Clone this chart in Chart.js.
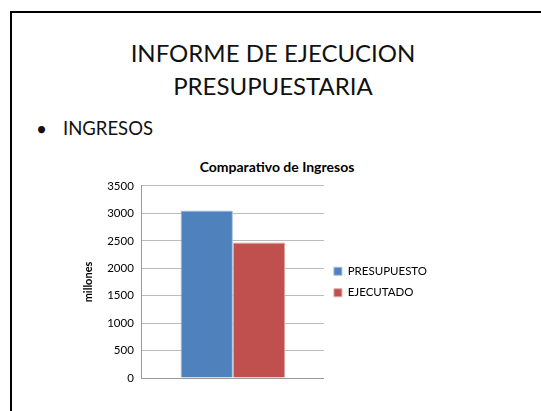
<!DOCTYPE html>
<html>
<head>
<meta charset="utf-8">
<script src="https://cdn.jsdelivr.net/npm/chart.js@4"></script>
<style>
  body { margin: 0; background: #fff; width: 541px; height: 411px; overflow: hidden; position: relative; font-family: Lato, "Open Sans", sans-serif; }
  .slide { position: absolute; left: 10px; top: 11px; width: 600px; height: 500px; border-left: 2px solid #000; border-top: 2px solid #000; }
  .title { position: absolute; left: 0; width: 546px; top: 36px; text-align: center; font-size: 24px; line-height: 33px; color: #111; }
  .dot { position: absolute; left: 36px; top: 117px; font-size: 19px; color: #111; }
  .bullet { position: absolute; left: 63px; top: 117px; font-size: 18.5px; color: #111; }
  .ctitle { position: absolute; left: 177px; width: 200px; top: 158px; text-align: center; font-size: 14px; font-weight: bold; color: #000; }
  #wrap { position: absolute; left: 76px; top: 171px; }
</style>
</head>
<body>
<div class="slide"></div>
<div class="title">INFORME DE EJECUCION<br>PRESUPUESTARIA</div>
<div class="dot">&bull;</div>
<div class="bullet">INGRESOS</div>
<div class="ctitle">Comparativo de Ingresos</div>
<div id="wrap"><canvas id="chart" width="361" height="222"></canvas></div>
<script>
// ---------- DATA ----------
const categories = ["Ingresos"];
const seriesNames = ["PRESUPUESTO", "EJECUTADO"];
const presupuesto = [3050];
const ejecutado = [2470];
const yTicks = [0, 500, 1000, 1500, 2000, 2500, 3000, 3500];

const colors = ["#4F81BD", "#C0504D"];

new Chart(document.getElementById("chart"), {
  type: "bar",
  data: {
    labels: categories,
    datasets: [
      { label: seriesNames[0], data: presupuesto, backgroundColor: colors[0], borderColor: "#a7bfdf", borderWidth: 1 },
      { label: seriesNames[1], data: ejecutado, backgroundColor: colors[1], borderColor: "#e0a9a7", borderWidth: 1 },
    ],
  },
  options: {
    responsive: false,
    devicePixelRatio: 1,
    animation: false,
    categoryPercentage: 0.575,
    barPercentage: 1.0,
    layout: { padding: { left: 2, right: 0, top: 3, bottom: 3 } },
    plugins: {
      title: { display: false },
      legend: {
        position: "right",
        maxWidth: 200,
        labels: {
          boxWidth: 8,
          boxHeight: 8,
          padding: 10,
          color: "#000",
          font: { family: "Lato", size: 11.5 },
        },
      },
      tooltip: { enabled: false },
    },
    scales: {
      x: {
        ticks: { display: false },
        grid: { display: false, drawTicks: false },
        border: { color: "#999" },
      },
      y: {
        min: 0,
        max: 3500,
        afterBuildTicks: (axis) => { axis.ticks = yTicks.map((v) => ({ value: v })); },
        ticks: { color: "#000", font: { family: "Lato", size: 11.5 }, padding: 8, callback: (v) => String(v) },
        grid: { color: "#bbb", drawTicks: false },
        border: { color: "#999" },
        title: {
          display: true,
          text: "millones",
          color: "#000",
          font: { family: "Lato", size: 11, weight: "bold" },
          padding: 4,
        },
      },
    },
  },
});
</script>
</body>
</html>
